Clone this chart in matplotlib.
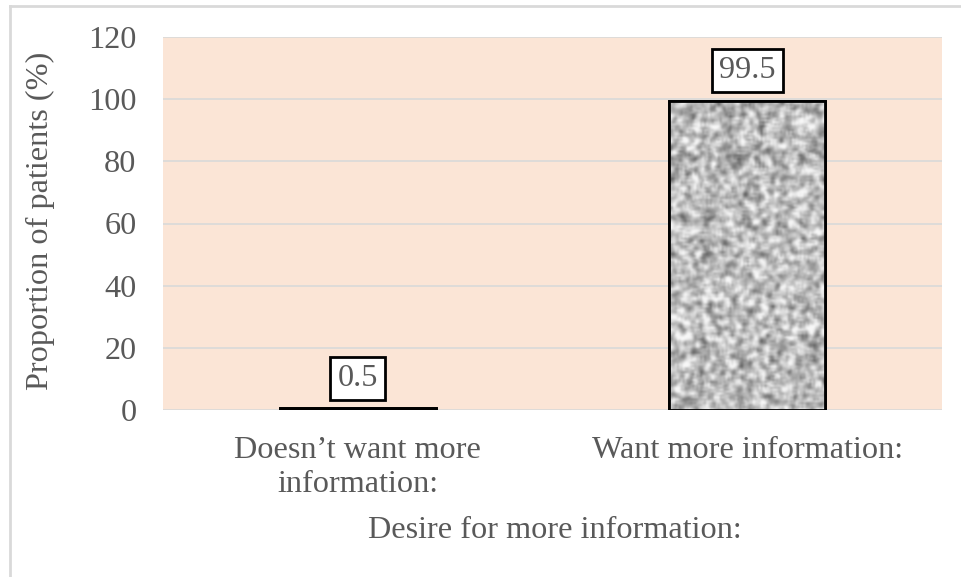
import numpy as np
import matplotlib
matplotlib.use("Agg")
import matplotlib.pyplot as plt
from matplotlib.patches import Rectangle

categories = ["Doesn\u2019t want more\ninformation:", "Want more information:"]
values = [0.5, 99.5]
value_labels = ["0.5", "99.5"]
yticks = [0, 20, 40, 60, 80, 100, 120]

TXT = "#595959"
FS = 23.2
plt.rcParams['font.family'] = ['Liberation Serif', 'DejaVu Serif']

fig = plt.figure(figsize=(9.62, 5.77), dpi=100)
# outer chart frame (partially visible)
fig.add_artist(plt.Line2D([10/962, 1], [1 - 6/577, 1 - 6/577], color="#d9d9d9", lw=2, transform=fig.transFigure))
fig.add_artist(plt.Line2D([10/962, 10/962], [0, 1 - 6/577], color="#d9d9d9", lw=2, transform=fig.transFigure))

ax = fig.add_axes([163/962, (577-410)/577, 779/962, 373/577])
ax.set_facecolor("#fbe5d6")
for s in ax.spines.values():
    s.set_visible(False)
ax.set_xlim(-0.5, 1.5)
ax.set_ylim(0, 120)
ax.set_yticks(yticks)
ax.yaxis.grid(True, color="#d9d9d9", lw=1.2)
ax.set_axisbelow(True)
ax.tick_params(axis='both', length=0, labelsize=FS, labelcolor=TXT)
ax.tick_params(axis='y', pad=19)
ax.tick_params(axis='x', pad=19)
x = np.arange(len(categories))
ax.set_xticks(x)
ax.set_xticklabels(categories, linespacing=1.22)

bars = ax.bar(x, values, width=0.4, facecolor="#b0b0b0", edgecolor="black", linewidth=2, zorder=3)

# granite-like gray texture inside bars
rng = np.random.default_rng(3)
for b in bars:
    h, w = 160, 80
    n = rng.random((h, w))
    pad = np.pad(n, 1, mode='wrap')
    sm = sum(pad[i:i+h, j:j+w] for i in range(3) for j in range(3)) / 9.0
    sm = (sm - sm.mean()) / sm.std()
    img = np.clip(0.74 + 0.12 * sm, 0.15, 0.97)
    x0, y0 = b.get_x(), b.get_y()
    im = ax.imshow(img, cmap='gray', vmin=0, vmax=1, extent=[x0, x0 + b.get_width(), y0, y0 + b.get_height()],
                   aspect='auto', interpolation='bicubic', zorder=3.5)
    im.set_clip_path(b)
    r = Rectangle((x0, y0), b.get_width(), b.get_height(), fill=False, edgecolor='black', lw=2, zorder=4)
    ax.add_patch(r)

for xi, v, lab in zip(x, values, value_labels):
    ax.annotate(lab, (xi, v), xytext=(0, 21.5), textcoords='offset points', ha='center', va='center',
                fontsize=FS, color=TXT, zorder=5,
                bbox=dict(boxstyle='square,pad=0.22', fc='white', ec='black', lw=2))

fig.text(555/962, 1 - 530/577, "Desire for more information:", ha='center', va='center', fontsize=FS, color=TXT)
fig.text(40/962, 1 - 221/577, "Proportion of patients (%)", ha='center', va='center', rotation=90, fontsize=FS, color=TXT)

fig.savefig("out.png", dpi=100)
